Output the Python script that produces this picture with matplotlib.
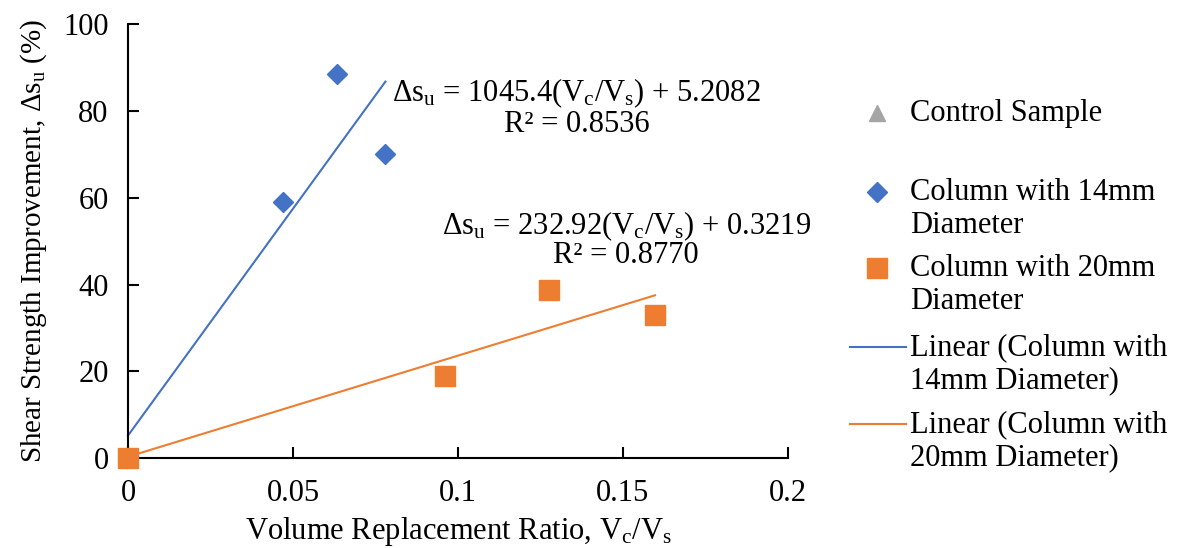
import numpy as np
import matplotlib.pyplot as plt
from matplotlib.lines import Line2D

plt.rcParams['font.family'] = ['Liberation Serif', 'DejaVu Serif']
plt.rcParams['mathtext.fontset'] = 'custom'
plt.rcParams['mathtext.rm'] = 'Liberation Serif'
plt.rcParams['mathtext.it'] = 'Liberation Serif:italic'

# data
control_x = [0.0]
control_y = [0.0]
d14_x = [0.047, 0.0633, 0.078]
d14_y = [58.9, 88.5, 70.0]
d20_x = [0.0, 0.096, 0.1276, 0.1597]
d20_y = [0.0, 19.0, 38.8, 33.0]

# trendline coefficients (slope, intercept) as printed on the chart
fit14 = (1045.4, 5.2082)
fit20 = (232.92, 0.3219)
r2_14 = 0.8536
r2_20 = 0.8770

blue = '#4472C4'
orange = '#ED7D31'
gray = '#A5A5A5'
fs = 22

fig = plt.figure(figsize=(12.01, 5.48), dpi=100)
ax = fig.add_axes([0.1066, 0.164, 0.5495, 0.792])

ax.plot(control_x, control_y, '^', color=gray, ms=12, zorder=3)
ax.plot(d14_x, d14_y, 'D', color=blue, ms=10, zorder=3)
ax.plot(d20_x, d20_y, 's', color=orange, ms=15, zorder=4)

x14 = np.array([0, max(d14_x)])
x20 = np.array([0, max(d20_x)])
ax.plot(x14, fit14[0] * x14 + fit14[1], color=blue, lw=1.5, zorder=2)
ax.plot(x20, fit20[0] * x20 + fit20[1], color=orange, lw=1.5, zorder=2)

ax.set_xlim(0, 0.2)
ax.set_ylim(0, 100)
ax.set_xticks([0, 0.05, 0.1, 0.15, 0.2])
ax.set_xticklabels(['0', '0.05', '0.1', '0.15', '0.2'])
ax.set_yticks(range(0, 101, 20))
ax.tick_params(direction='in', length=8, width=1.5, labelsize=fs)
ax.tick_params(axis='x', pad=15)
ax.tick_params(axis='y', pad=14)
for s in ['top', 'right']:
    ax.spines[s].set_visible(False)
for s in ['left', 'bottom']:
    ax.spines[s].set_linewidth(1.5)
for ln in ax.lines:
    ln.set_clip_on(False)

ax.set_xlabel(r'Volume Replacement Ratio, V$_\mathrm{c}$/V$_\mathrm{s}$', fontsize=fs, labelpad=5)
ax.set_ylabel(r'Shear Strength Improvement, $\Delta$s$_\mathrm{u}$ (%)', fontsize=21, labelpad=10)

# trendline equations
ax.text(0.136, 84, r'$\Delta$s$_\mathrm{u}$ = %.1f(V$_\mathrm{c}$/V$_\mathrm{s}$) + %.4f' % fit14,
        fontsize=fs, ha='center', va='center')
ax.text(0.136, 76.8, 'R² = %.4f' % r2_14, fontsize=fs, ha='center', va='center')
ax.text(0.151, 53.4, r'$\Delta$s$_\mathrm{u}$ = %.2f(V$_\mathrm{c}$/V$_\mathrm{s}$) + %.4f' % fit20,
        fontsize=fs, ha='center', va='center')
ax.text(0.151, 46.6, 'R² = %.4f' % r2_20, fontsize=fs, ha='center', va='center')

# legend drawn by hand so markers line up with the first text line
entries = [
    ('^', gray, 12, 'Control Sample', 113),
    ('D', blue, 10, 'Column with 14mm\nDiameter', 192),
    ('s', orange, 15, 'Column with 20mm\nDiameter', 268),
    ('-', blue, 0, 'Linear (Column with\n14mm Diameter)', 347),
    ('-', orange, 0, 'Linear (Column with\n20mm Diameter)', 424),
]
W, H = 1201, 548
for mk, col, ms, label, ypx in entries:
    yf = 1 - ypx / H
    if mk == '-':
        fig.add_artist(Line2D([850 / W, 906 / W], [yf, yf], color=col, lw=1.5,
                              transform=fig.transFigure))
    else:
        fig.add_artist(Line2D([877 / W], [yf], marker=mk, color=col, ms=ms, ls='none',
                              transform=fig.transFigure))
    fig.text(910 / W, yf + 14 / H, label, fontsize=fs, va='top', ha='left',
             linespacing=1.2)

fig.savefig('out.png', dpi=100)
